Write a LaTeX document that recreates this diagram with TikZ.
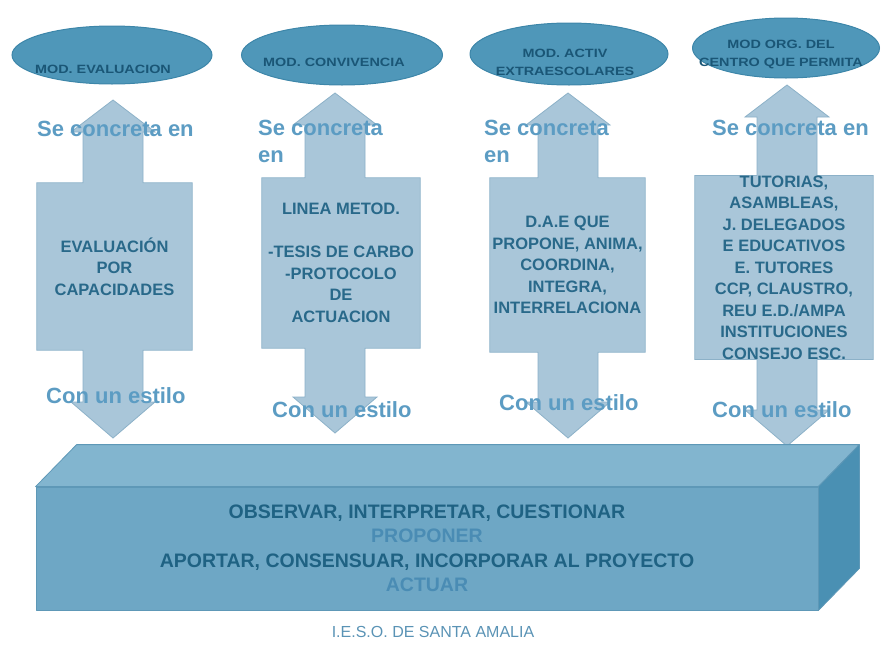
\documentclass[tikz,border=0pt]{standalone}
\usepackage{fontspec}
\setmainfont{Liberation Sans}
\newfontfamily\modfont[FakeStretch=1.2]{Liberation Sans}
\usetikzlibrary{shapes.geometric,backgrounds}

\definecolor{arrowfill}{HTML}{A9C6D9}
\definecolor{arrowline}{HTML}{8CB1C8}
\definecolor{labelblue}{HTML}{5C9CC3}
\definecolor{boxtext}{HTML}{29698A}
\definecolor{ellfill}{HTML}{4F97B9}
\definecolor{ellline}{HTML}{3D86A9}
\definecolor{elltext}{HTML}{1A5676}
\definecolor{slabfront}{HTML}{6EA7C5}
\definecolor{slabtop}{HTML}{82B5CF}
\definecolor{slabside}{HTML}{4A90B3}
\definecolor{slabline}{HTML}{5E98B7}
\definecolor{slabdark}{HTML}{1F6283}
\definecolor{slablight}{HTML}{4A8CB4}
\definecolor{footblue}{HTML}{5A93B5}

\begin{document}
\begin{tikzpicture}[x=1pt,y=-1pt,
    modshape/.style={ellipse, fill=ellfill, draw=ellline, line width=1pt, inner sep=0pt},
    modtext/.style={text=elltext, font=\modfont\bfseries\fontsize{12}{18}\selectfont, align=center, inner sep=0pt},
    boxnode/.style={rectangle, inner sep=0pt, text=boxtext, font=\bfseries\fontsize{16.5}{21.5}\selectfont, align=center},
    arrowbody/.style={fill=arrowfill, draw=arrowline, line width=0.8pt},
    steplabel/.style={text=labelblue, font=\bfseries\fontsize{22}{27}\selectfont, align=left, anchor=west, inner sep=0pt},
    slabface/.style={draw=slabline, line width=0.8pt, line join=round}]

    % --- lienzo ---
    \useasboundingbox (0,0) rectangle (882,648);

    % --- cajas centrales ---
    \node[boxnode, minimum width=155pt, minimum height=167pt] (b1) at (114.5,266.5)
        {EVALUACIÓN\\POR\\CAPACIDADES};
    \node[boxnode, minimum width=158pt, minimum height=170pt] (b2) at (341,263)
        {LINEA METOD.\\[21.5pt]-TESIS DE CARBO\\-PROTOCOLO\\DE\\ACTUACION};
    \node[boxnode, minimum width=155pt, minimum height=174pt] (b3) at (567.5,265)
        {D.A.E QUE\\PROPONE, ANIMA,\\COORDINA,\\INTEGRA,\\INTERRELACIONA};
    \node[boxnode, minimum width=178pt, minimum height=181pt] (b4) at (784,267.5)
        {TUTORIAS,\\ASAMBLEAS,\\J. DELEGADOS\\E EDUCATIVOS\\E. TUTORES\\CCP, CLAUSTRO,\\REU E.D./AMPA\\INSTITUCIONES\\CONSEJO ESC.};

    % --- flechas dobles detras de las cajas ---
    \begin{scope}[on background layer]
    \foreach \c/\cx/\ty/\by in {1/113/100/438, 2/335/93/433, 3/568/93/438, 4/787/85/446}{
        \filldraw[arrowbody] (b\c.north west) -- ([xshift=-30pt]b\c.north -| \cx,0)
            |- (\cx-42,\ty+32) -- (\cx,\ty) -- (\cx+42,\ty+32)
            -| ([xshift=30pt]b\c.north -| \cx,0) -- (b\c.north east)
            -- (b\c.south east) -- ([xshift=30pt]b\c.south -| \cx,0)
            |- (\cx+42,\by-36) -- (\cx,\by) -- (\cx-42,\by-36)
            -| ([xshift=-30pt]b\c.south -| \cx,0) -- (b\c.south west) -- cycle;
    }
    \end{scope}

    % --- elipses superiores ---
    \node[modshape, minimum width=200pt, minimum height=58pt] (e1) at (112,55) {};
    \node[modshape, minimum width=201pt, minimum height=60pt] (e2) at (342,55) {};
    \node[modshape, minimum width=198pt, minimum height=62pt] (e3) at (569,54) {};
    \node[modshape, minimum width=187pt, minimum height=60pt] (e4) at (786,48) {};
    \node[modtext] (t1) at (103,69) {MOD. EVALUACION};
    \node[modtext] (t2) at (334,62) {MOD. CONVIVENCIA};
    \node[modtext] (t3) at (565,62) {MOD. ACTIV\\EXTRAESCOLARES};
    \node[modtext] (t4) at (781,54) {MOD ORG. DEL\\CENTRO QUE PERMITA};

    % --- etiquetas sobre las flechas ---
    \node[steplabel] (s1) at (37,129) {Se concreta en};
    \node[steplabel] (s2) at (258,141.5) {Se concreta\\en};
    \node[steplabel] (s3) at (484,141.5) {Se concreta\\en};
    \node[steplabel] (s4) at (712,128) {Se concreta en};
    \node[steplabel] (c1) at (46,396) {Con un estilo};
    \node[steplabel] (c2) at (272,410) {Con un estilo};
    \node[steplabel] (c3) at (499,403) {Con un estilo};
    \node[steplabel] (c4) at (712,410) {Con un estilo};

    % --- bloque inferior ---
    \node[slabface, fill=slabfront, minimum width=782pt, minimum height=123pt, inner sep=0pt,
          font=\bfseries\fontsize{19.5}{24.5}\selectfont, text=slabdark, align=center] (slab) at (427,548.5)
        {OBSERVAR, INTERPRETAR, CUESTIONAR\\
         \textcolor{slablight}{PROPONER}\\
         APORTAR, CONSENSUAR, INCORPORAR AL PROYECTO\\
         \textcolor{slablight}{ACTUAR}};
    \filldraw[slabface, fill=slabtop] (slab.north west) -- ++(41,-42) -| ([xshift=41pt,yshift=42pt]slab.north east)
        -- (slab.north east) -- cycle;
    \filldraw[slabface, fill=slabside] (slab.north east) -- ++(41,-42) -- ([xshift=41pt,yshift=42pt]slab.south east)
        -- (slab.south east) -- cycle;

    % --- pie ---
    \node[text=footblue, font=\fontsize{16}{19}\selectfont] (pie) at (433,632) {I.E.S.O. DE SANTA AMALIA};

\end{tikzpicture}
\end{document}
